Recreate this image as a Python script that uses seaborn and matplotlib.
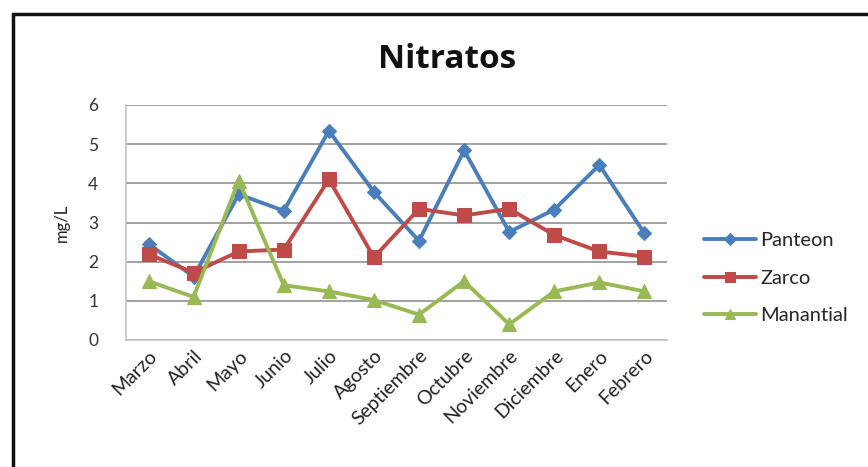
import matplotlib
matplotlib.use("Agg")
import matplotlib.pyplot as plt
import seaborn as sns
import pandas as pd
from matplotlib.patches import Rectangle

months = ["Marzo", "Abril", "Mayo", "Junio", "Julio", "Agosto", "Septiembre",
          "Octubre", "Noviembre", "Diciembre", "Enero", "Febrero"]
panteon = [2.45, 1.62, 3.72, 3.30, 5.34, 3.78, 2.53, 4.84, 2.76, 3.33, 4.47, 2.72]
zarco = [2.19, 1.72, 2.26, 2.31, 4.10, 2.11, 3.35, 3.18, 3.35, 2.68, 2.26, 2.13]
manantial = [1.50, 1.10, 4.07, 1.40, 1.24, 1.02, 0.65, 1.50, 0.40, 1.24, 1.47, 1.24]
series_names = ["Panteon", "Zarco", "Manantial"]
y_ticks = [0, 1, 2, 3, 4, 5, 6]

df = pd.DataFrame({
    "Mes": months * 3,
    "Serie": [series_names[0]] * 12 + [series_names[1]] * 12 + [series_names[2]] * 12,
    "Valor": panteon + zarco + manantial,
})
df["x"] = list(range(12)) * 3

sns.set_style("white")
plt.rcParams["font.family"] = ["Lato", "DejaVu Sans"]

colors = {"Panteon": "#4A7EBB", "Zarco": "#BE4B48", "Manantial": "#98B954"}
markers = {"Panteon": "D", "Zarco": "s", "Manantial": "^"}
msize = {"Panteon": 7.5, "Zarco": 10.5, "Manantial": 10.5}

fig = plt.figure(figsize=(8.68, 4.67), dpi=100)
ax = fig.add_axes([126 / 868, 1 - 340 / 467, (667 - 126) / 868, (340 - 105) / 467])

for name in series_names:
    sub = df[df["Serie"] == name]
    sns.lineplot(data=sub, x="x", y="Valor", ax=ax, color=colors[name],
                 marker=markers[name], markersize=msize[name], linewidth=2.8,
                 markeredgecolor=colors[name], label=name, sort=False)

ax.set_xlim(-0.5, 11.5)
ax.set_ylim(0, 6)
ax.set_yticks(y_ticks)
ax.set_xticks(range(12))
ax.set_xticklabels(months, rotation=45, ha="right", rotation_mode="anchor",
                   fontsize=14, color="#222222")
ax.tick_params(axis="y", labelsize=12.5, labelcolor="#333333", length=0, pad=20)
ax.tick_params(axis="x", length=0, pad=5)
ax.set_xlabel("")
ax.set_ylabel("mg/L", fontsize=12, color="#222222", labelpad=13)
ax.grid(axis="y", color="#9a9a9a", linewidth=1.3)
ax.set_axisbelow(True)
for s in ["top", "right"]:
    ax.spines[s].set_visible(False)
for s in ["left", "bottom"]:
    ax.spines[s].set_color("#c4c4c4")
    ax.spines[s].set_linewidth(1.2)

fig.text(447 / 868, 1 - 59 / 467, "Nitratos", ha="center", va="center",
         fontsize=24, fontweight="bold", color="#111111",
         family=["Open Sans", "DejaVu Sans"])

handles, labels = ax.get_legend_handles_labels()
ax.legend(handles, labels, loc="center left", bbox_to_anchor=(686 / 868, 1 - 278 / 467),
          bbox_transform=fig.transFigure, frameon=False, fontsize=14.5,
          handlelength=2.6, handletextpad=0.2, labelspacing=1.0, markerscale=0.75)

fig.patches.append(Rectangle((13 / 868, -0.1), 1.2, 1 - 14 / 467 + 0.1,
                             transform=fig.transFigure, fill=False,
                             edgecolor="#111111", linewidth=2.5))

fig.savefig("out.png", dpi=100, facecolor="white")
